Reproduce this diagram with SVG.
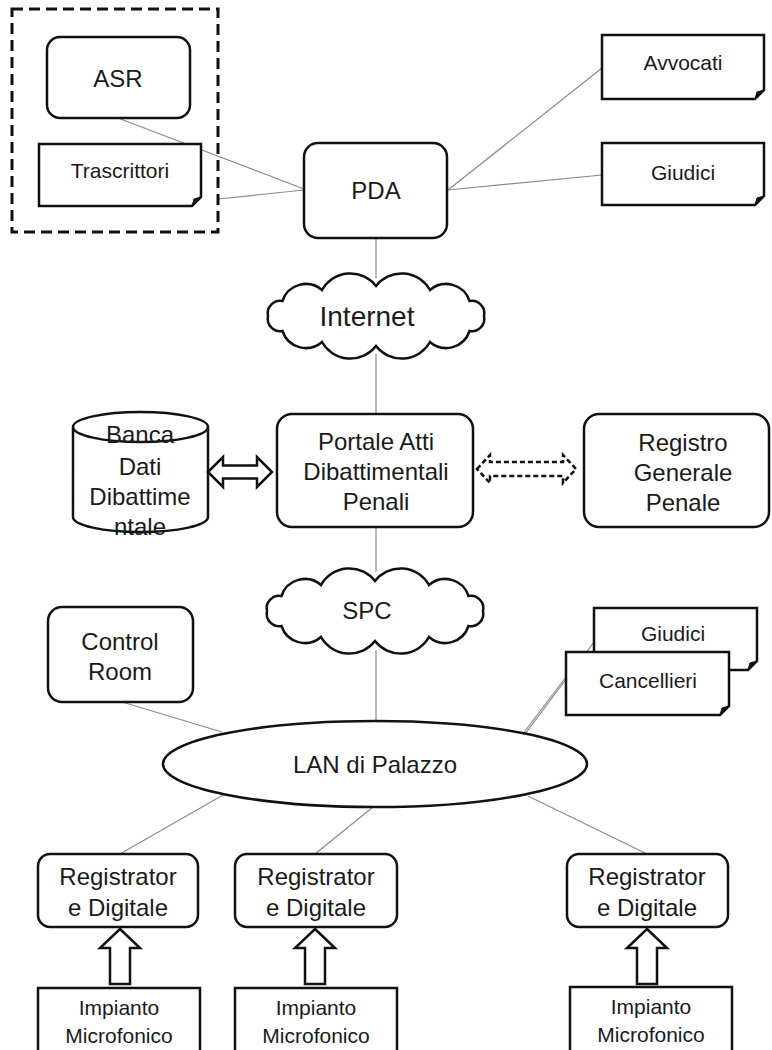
<svg xmlns="http://www.w3.org/2000/svg" width="772" height="1050" viewBox="0 0 772 1050">
<style>
.box{fill:#fff;stroke:#111;stroke-width:2.5}
.fold{fill:#111;stroke:#111;stroke-width:1;stroke-linejoin:round}
.conn{stroke:#8a8a8a;stroke-width:1.2;fill:none}
.t{font-family:"Liberation Sans",Arial,sans-serif;fill:#1a1a1a;text-anchor:middle}
.big{font-size:24px}
.mid{font-size:21px}
.grp{fill:none;stroke:#111;stroke-width:3;stroke-dasharray:11 6}
.blk{fill:#fff;stroke:#111;stroke-width:2.5;stroke-linejoin:miter}
.dash{fill:#fff;stroke:#111;stroke-width:2.5;stroke-dasharray:5 3}
</style>
<defs>
<path id="cloud" d="M-108,0 A12.5,12.5 0 0 1 -93.5,-15 A24.6,24.6 0 0 1 -54,-26 A32.5,32.5 0 0 1 0,-30 A32.5,32.5 0 0 1 54,-26 A24.6,24.6 0 0 1 93.5,-15 A12.5,12.5 0 0 1 108,0 A12.5,12.5 0 0 1 93.5,15 A24.6,24.6 0 0 1 54,26 A32.5,32.5 0 0 1 0,30 A32.5,32.5 0 0 1 -54,26 A24.6,24.6 0 0 1 -93.5,15 A12.5,12.5 0 0 1 -108,0 Z"/>
</defs>
<rect width="772" height="1050" fill="#fff"/>

<g id="connectors">
<line class="conn" x1="118" y1="118" x2="304" y2="189"/>
<line class="conn" x1="218" y1="199" x2="304" y2="190"/>
<line class="conn" x1="448" y1="190" x2="602" y2="68"/>
<line class="conn" x1="448" y1="190" x2="602" y2="175"/>
<line class="conn" x1="376" y1="238" x2="376" y2="278"/>
<line class="conn" x1="376" y1="354" x2="376" y2="414"/>
<line class="conn" x1="376" y1="527" x2="376" y2="572"/>
<line class="conn" x1="376" y1="650" x2="376" y2="721"/>
<line class="conn" x1="122" y1="702" x2="222" y2="732"/>
<line class="conn" x1="594" y1="642" x2="525" y2="734"/>
<line class="conn" x1="566" y1="677" x2="522" y2="735"/>
<line class="conn" x1="223" y1="795" x2="120" y2="854"/>
<line class="conn" x1="373" y1="807" x2="315" y2="854"/>
<line class="conn" x1="528" y1="796" x2="647" y2="854"/>
</g>

<g id="group-asr">
<rect class="grp" x="12" y="9" width="206" height="223"/>
</g>
<g id="asr">
<rect class="box" x="47" y="37" width="143" height="81" rx="13"/>
<text class="t big" x="118" y="87">ASR</text>
</g>
<g id="trascrittori">
<path class="box" d="M39,144 H201 V197 L192,206 H39 Z"/>
<path class="fold" d="M201,197 L192,206 L194,199 Z"/>
<text class="t mid" x="120" y="178">Trascrittori</text>
</g>
<g id="pda">
<rect class="box" x="304" y="143" width="143" height="95" rx="14"/>
<text class="t big" x="376" y="199">PDA</text>
</g>
<g id="avvocati">
<path class="box" d="M602,35 H764 V90 L755,99 H602 Z"/>
<path class="fold" d="M764,90 L755,99 L757,92 Z"/>
<text class="t mid" x="683" y="70">Avvocati</text>
</g>
<g id="giudici">
<path class="box" d="M602,143 H764 V196 L755,205 H602 Z"/>
<path class="fold" d="M764,196 L755,205 L757,198 Z"/>
<text class="t mid" x="683" y="180">Giudici</text>
</g>
<g id="internet">
<use href="#cloud" class="box" transform="translate(376,316)"/>
<text class="t" style="font-size:28px" x="367" y="326">Internet</text>
</g>
<g id="banca-dati">
<path class="box" d="M73,427 A67.5,15 0 0 1 208,427 V517 A67.5,15 0 0 1 73,517 Z"/>
<path class="box" style="fill:none" d="M73,427 A67.5,15 0 0 0 208,427"/>
<text class="t big" x="140" y="443">Banca</text>
<text class="t big" x="140" y="475">Dati</text>
<text class="t big" x="140" y="505">Dibattime</text>
<text class="t big" x="140" y="535">ntale</text>
</g>
<g id="arrow-banca-portale">
<path class="blk" d="M208,472 L223,457 L223,465.5 L257,465.5 L257,457 L272,472 L257,487 L257,478.5 L223,478.5 L223,487 Z"/>
</g>
<g id="portale">
<rect class="box" x="277" y="414" width="196" height="113" rx="15"/>
<text class="t big" x="376" y="450">Portale Atti</text>
<text class="t big" x="376" y="480">Dibattimentali</text>
<text class="t big" x="376" y="510">Penali</text>
</g>
<g id="arrow-portale-registro">
<path class="dash" d="M477,469 L490,455 L490,462 L563,462 L563,455 L576,469 L563,483 L563,476 L490,476 L490,483 Z"/>
</g>
<g id="registro">
<rect class="box" x="584" y="414" width="185" height="113" rx="15"/>
<text class="t big" x="683" y="451">Registro</text>
<text class="t big" x="683" y="481">Generale</text>
<text class="t big" x="683" y="511">Penale</text>
</g>
<g id="spc">
<use href="#cloud" class="box" transform="translate(375,611)"/>
<text class="t big" x="367" y="619">SPC</text>
</g>
<g id="control-room">
<rect class="box" x="48" y="607" width="145" height="95" rx="14"/>
<text class="t big" x="120" y="650">Control</text>
<text class="t big" x="120" y="680">Room</text>
</g>
<g id="giudici-2">
<path class="box" d="M594,608 H757 V661 L748,670 H594 Z"/>
<path class="fold" d="M757,661 L748,670 L750,663 Z"/>
<text class="t mid" x="673" y="641">Giudici</text>
</g>
<g id="cancellieri">
<path class="box" d="M566,652 H729 V706 L720,715 H566 Z"/>
<path class="fold" d="M729,706 L720,715 L722,708 Z"/>
<text class="t mid" x="648" y="688">Cancellieri</text>
</g>
<g id="lan">
<ellipse class="box" cx="375" cy="764" rx="212" ry="43"/>
<text class="t big" x="375" y="773">LAN di Palazzo</text>
</g>
<g id="registratore-1">
<rect class="box" x="38" y="854" width="160" height="73" rx="12"/>
<text class="t big" x="118" y="885">Registrator</text>
<text class="t big" x="118" y="916">e Digitale</text>
</g>
<g id="registratore-2">
<rect class="box" x="235" y="854" width="162" height="73" rx="12"/>
<text class="t big" x="316" y="885">Registrator</text>
<text class="t big" x="316" y="916">e Digitale</text>
</g>
<g id="registratore-3">
<rect class="box" x="567" y="854" width="161" height="73" rx="12"/>
<text class="t big" x="647" y="885">Registrator</text>
<text class="t big" x="647" y="916">e Digitale</text>
</g>
<g id="arrow-1">
<path class="blk" d="M120,929 L140,948 L130,948 L130,984 L110,984 L110,948 L100,948 Z"/>
</g>
<g id="arrow-2">
<path class="blk" d="M315,929 L335,948 L325,948 L325,984 L305,984 L305,948 L295,948 Z"/>
</g>
<g id="arrow-3">
<path class="blk" d="M647,929 L667,948 L657,948 L657,984 L637,984 L637,948 L627,948 Z"/>
</g>
<g id="impianto-1">
<rect class="box" x="38" y="988" width="162" height="70"/>
<text class="t mid" x="119" y="1015">Impianto</text>
<text class="t mid" x="119" y="1043">Microfonico</text>
</g>
<g id="impianto-2">
<rect class="box" x="235" y="988" width="162" height="70"/>
<text class="t mid" x="316" y="1015">Impianto</text>
<text class="t mid" x="316" y="1043">Microfonico</text>
</g>
<g id="impianto-3">
<rect class="box" x="570" y="987" width="162" height="70"/>
<text class="t mid" x="651" y="1014">Impianto</text>
<text class="t mid" x="651" y="1042">Microfonico</text>
</g>
</svg>
